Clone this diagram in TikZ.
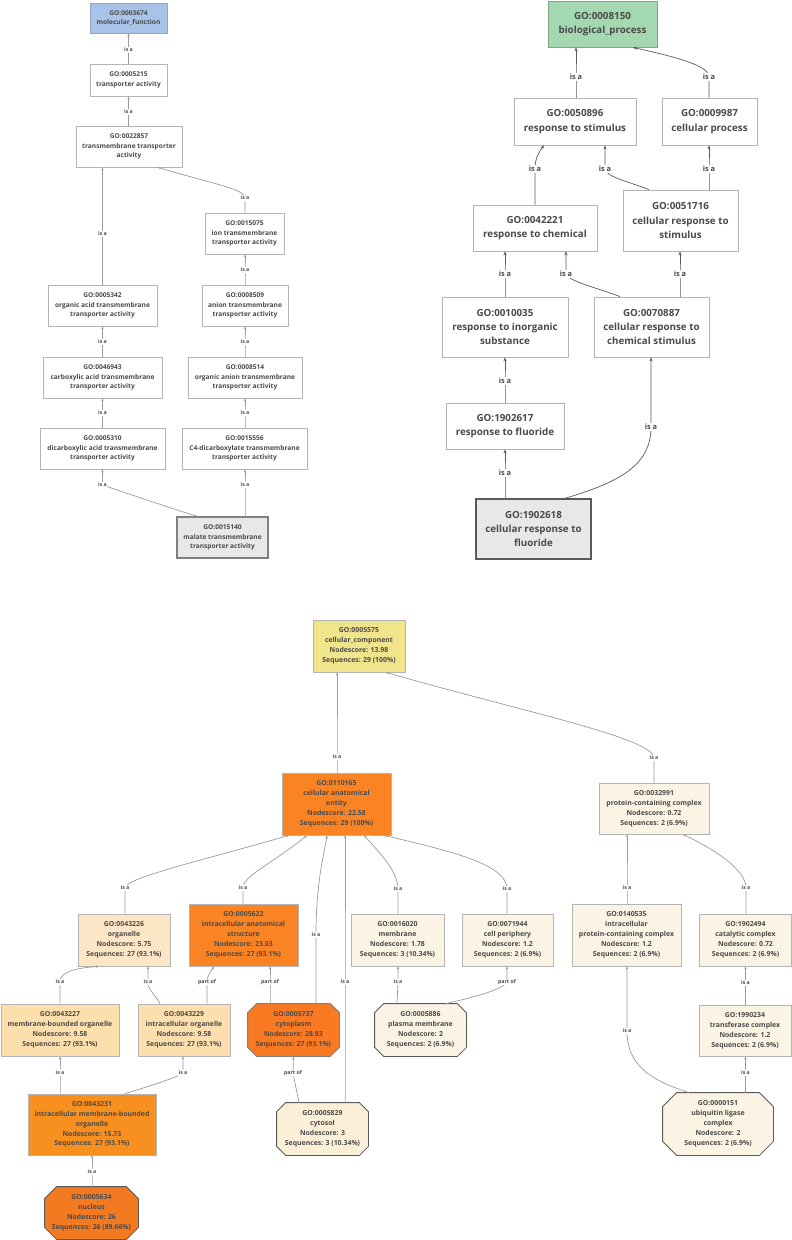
\documentclass[tikz,border=0pt]{standalone}
\usepackage{fontspec}
\setmainfont{Open Sans}
\usetikzlibrary{arrows.meta,backgrounds}
\definecolor{txt}{HTML}{4A4A4A}
\definecolor{mfblue}{HTML}{A9C3E8}
\definecolor{mfbd}{HTML}{8FA6C8}
\definecolor{bpgreen}{HTML}{A3D8B0}
\definecolor{bpbd}{HTML}{7FA88A}
\definecolor{ccyellow}{HTML}{F0E48C}
\definecolor{orA}{HTML}{FA8424}
\definecolor{orB}{HTML}{F97A22}
\definecolor{orC}{HTML}{F8901F}
\definecolor{orD}{HTML}{F47A22}
\definecolor{peachA}{HTML}{FDE6C6}
\definecolor{peachB}{HTML}{FCDFAC}
\definecolor{cream}{HTML}{FBF3E4}
\definecolor{creamB}{HTML}{FCEFD8}
\definecolor{srcgray}{HTML}{E8E8E8}
\definecolor{bdgray}{HTML}{B4B4B4}
\definecolor{edgegray}{HTML}{9A9A9A}
\definecolor{edgedark}{HTML}{5A5A5A}
\newcommand{\gooct}[3]{%
  \path[#3] ([xshift=#2]#1.north west) -- ([xshift=-#2]#1.north east) -- ([yshift=-#2]#1.north east) -- ([yshift=#2]#1.south east) -- ([xshift=-#2]#1.south east) -- ([xshift=#2]#1.south west) -- ([yshift=#2]#1.south west) -- ([yshift=-#2]#1.north west) -- cycle;}
\begin{document}
\begin{tikzpicture}[x=1pt,y=-1pt,
  sz/.style 2 args={minimum width=#1pt,minimum height=#2pt},
  basebox/.style={rectangle,draw=bdgray,fill=white,line width=0.8pt,inner sep=0pt,align=center,text=txt},
  mfbox/.style={basebox,font=\bfseries\fontsize{6.6}{9.3}\selectfont},
  bpbox/.style={basebox,font=\bfseries\fontsize{9.8}{14.3}\selectfont},
  ccbox/.style={basebox,font=\bfseries\fontsize{6.9}{9.9}\selectfont},
  ccoct/.style={ccbox,draw=none,fill=none},
  octfill/.style={fill=#1,draw=edgedark,line width=0.8pt},
  srcbox/.style={fill=srcgray,draw=gray,line width=1.2pt},
  mfedge/.style={draw=edgegray,line width=0.7pt,-{Stealth[length=3pt,width=2.4pt]}},
  bpedge/.style={draw=edgedark,line width=0.7pt,-{Stealth[length=4pt,width=3.2pt]}},
  ccedge/.style={draw=edgegray,line width=0.7pt,-{Stealth[length=3pt,width=2.4pt]}},
  smlab/.style={fill=white,inner sep=0.6pt,text=txt,font=\bfseries\fontsize{5.2}{6}\selectfont},
  bplab/.style={fill=white,inner sep=0.8pt,text=txt,font=\bfseries\fontsize{7.4}{8}\selectfont}
]
\useasboundingbox (0,0) rectangle (792,1240);

% ---------------- molecular function ----------------
\node[mfbox,sz={77}{30},fill=mfblue,draw=mfbd] (mf) at (128.5,18) {GO:0003674\\molecular\_function};
\node[mfbox,sz={77}{32}] (ta) at (128.5,80) {GO:0005215\\transporter activity};
\node[mfbox,sz={106}{41}] (tta) at (129,146.5) {GO:0022857\\transmembrane transporter\\activity};
\node[mfbox,sz={79}{41}] (itta) at (244.5,233.5) {GO:0015075\\ion transmembrane\\transporter activity};
\node[mfbox,sz={109}{41}] (oatta) at (102.5,305.5) {GO:0005342\\organic acid transmembrane\\transporter activity};
\node[mfbox,sz={86}{41}] (atta) at (245,305.5) {GO:0008509\\anion transmembrane\\transporter activity};
\node[mfbox,sz={119}{41}] (catta) at (102.5,377.5) {GO:0046943\\carboxylic acid transmembrane\\transporter activity};
\node[mfbox,sz={114}{41}] (oanta) at (245,377.5) {GO:0008514\\organic anion transmembrane\\transporter activity};
\node[mfbox,sz={125}{41}] (datta) at (102.5,448.5) {GO:0005310\\dicarboxylic acid transmembrane\\transporter activity};
\node[mfbox,sz={125}{41}] (c4) at (244.5,448.5) {GO:0015556\\C4-dicarboxylate transmembrane\\transporter activity};
\node[mfbox,sz={91}{41},srcbox] (mal) at (222.5,537.5) {GO:0015140\\malate transmembrane\\transporter activity};

\draw[mfedge] (ta.north) -- (128.5,50) node[smlab] (l1) {is a} -- (mf.south);
\draw[mfedge] ([xshift=-0.5pt]tta.north) -- (128.5,112) node[smlab] (l2) {is a} -- (ta.south);
\draw[mfedge] (oatta.north) -- (102.5,234) node[smlab] (l3) {is a} -- ([xshift=-26.5pt]tta.south);
\draw[mfedge] ([xshift=0.5pt]itta.north) -- (245,198) node[smlab] (l4) {is a} .. controls (245,189) and (215,184.5) .. ([xshift=29pt]tta.south);
\draw[mfedge] (atta.north) -- (245,270) node[smlab] (l5) {is a} -- ([xshift=0.5pt]itta.south);
\draw[mfedge] (catta.north) -- (102.5,342) node[smlab] (l6) {is a} -- (oatta.south);
\draw[mfedge] (oanta.north) -- (245,342) node[smlab] (l7) {is a} -- (atta.south);
\draw[mfedge] (datta.north) -- (102.5,413) node[smlab] (l8) {is a} -- (catta.south);
\draw[mfedge] ([xshift=0.5pt]c4.north) -- (245,413) node[smlab] (l9) {is a} -- (oanta.south);
\draw[mfedge] ([xshift=-24.5pt]mal.north) .. controls (180,511.5) and (110,487.5) .. (102.5,485) node[smlab] (l10) {is a} -- (datta.south);
\draw[mfedge] ([xshift=22.5pt]mal.north) -- (245,485) node[smlab] (l11) {is a} -- ([xshift=0.5pt]c4.south);

% ---------------- biological process ----------------
\node[bpbox,sz={109}{46},fill=bpgreen,draw=bpbd] (bp) at (602.5,24) {GO:0008150\\biological\_process};
\node[bpbox,sz={122}{47}] (rs) at (575,121.5) {GO:0050896\\response to stimulus};
\node[bpbox,sz={95}{47}] (cp) at (709.5,121.5) {GO:0009987\\cellular process};
\node[bpbox,sz={124}{46}] (rc) at (535,228) {GO:0042221\\response to chemical};
\node[bpbox,sz={115}{61}] (crs) at (680.5,220.5) {GO:0051716\\cellular response to\\stimulus};
\node[bpbox,sz={126}{60}] (ri) at (505,327) {GO:0010035\\response to inorganic\\substance};
\node[bpbox,sz={115}{60}] (ccs) at (651.5,327) {GO:0070887\\cellular response to\\chemical stimulus};
\node[bpbox,sz={118}{46}] (rf) at (505,426) {GO:1902617\\response to fluoride};
\node[bpbox,sz={115}{60},srcbox,draw=edgedark,line width=1.4pt] (crf) at (533.5,529) {GO:1902618\\cellular response to\\fluoride};

\draw[bpedge] ([xshift=1pt]rs.north) -- (576,77) node[bplab] (b1) {is a} -- ([xshift=-26.5pt]bp.south);
\draw[bpedge] ([xshift=-0.5pt]cp.north) -- (709,77) node[bplab] (b2) {is a} .. controls (709,66) and (680,58) .. ([xshift=30.5pt]bp.south);
\draw[bpedge] (rc.north) -- (535,169) node[bplab] (b3) {is a} .. controls (535,158) and (539,152) .. ([xshift=-31pt]rs.south);
\draw[bpedge] ([xshift=-31.5pt]crs.north) .. controls (630,182) and (606,177) .. (605,169) node[bplab] (b4) {is a} -- ([xshift=30pt]rs.south);
\draw[bpedge] ([xshift=28.5pt]crs.north) -- (709,169) node[bplab] (b5) {is a} -- ([xshift=-0.5pt]cp.south);
\draw[bpedge] (ri.north) -- (505,274) node[bplab] (b6) {is a} -- ([xshift=-30pt]rc.south);
\draw[bpedge] ([xshift=-31.5pt]ccs.north) .. controls (598,288) and (570,282) .. (566,274) node[bplab] (b7) {is a} -- ([xshift=31pt]rc.south);
\draw[bpedge] ([xshift=28.5pt]ccs.north) -- (680,274) node[bplab] (b8) {is a} -- ([xshift=-0.5pt]crs.south);
\draw[bpedge] (rf.north) -- (505,381) node[bplab] (b9) {is a} -- (ri.south);
\draw[bpedge] ([xshift=-28.5pt]crf.north) -- (505,473) node[bplab] (b10) {is a} -- (rf.south);
\draw[bpedge] ([xshift=31.5pt]crf.north) .. controls (620,482) and (651,465) .. (651,427) node[bplab] (b11) {is a} -- ([xshift=-0.5pt]ccs.south);

% ---------------- cellular component ----------------
\node[ccbox,sz={92}{52},fill=ccyellow] (cc) at (359,646) {GO:0005575\\cellular\_component\\Nodescore: 13.98\\Sequences: 29 (100\%)};
\node[ccbox,sz={109}{62},fill=orA] (cae) at (336.5,804) {GO:0110165\\cellular anatomical\\entity\\Nodescore: 22.58\\Sequences: 29 (100\%)};
\node[ccbox,sz={110}{51},fill=cream] (pcc) at (654,808.5) {GO:0032991\\protein-containing complex\\Nodescore: 0.72\\Sequences: 2 (6.9\%)};
\node[ccbox,sz={92}{52},fill=peachA] (org) at (124,940) {GO:0043226\\organelle\\Nodescore: 5.75\\Sequences: 27 (93.1\%)};
\node[ccbox,sz={109}{62},fill=orA] (ias) at (243.5,935) {GO:0005622\\intracellular anatomical\\structure\\Nodescore: 23.03\\Sequences: 27 (93.1\%)};
\node[ccbox,sz={93}{52},fill=cream] (mem) at (397.5,940) {GO:0016020\\membrane\\Nodescore: 1.78\\Sequences: 3 (10.34\%)};
\node[ccbox,sz={91}{52},fill=cream] (cper) at (507.5,940) {GO:0071944\\cell periphery\\Nodescore: 1.2\\Sequences: 2 (6.9\%)};
\node[ccbox,sz={109}{62},fill=cream] (ipcc) at (626.5,935) {GO:0140535\\intracellular\\protein-containing complex\\Nodescore: 1.2\\Sequences: 2 (6.9\%)};
\node[ccbox,sz={92}{52},fill=cream] (catc) at (745.5,940) {GO:1902494\\catalytic complex\\Nodescore: 0.72\\Sequences: 2 (6.9\%)};
\node[ccbox,sz={118}{52},fill=peachB] (mbo) at (60,1030) {GO:0043227\\membrane-bounded organelle\\Nodescore: 9.58\\Sequences: 27 (93.1\%)};
\node[ccbox,sz={92}{52},fill=peachB] (io) at (184,1030) {GO:0043229\\intracellular organelle\\Nodescore: 9.58\\Sequences: 27 (93.1\%)};
\node[ccoct,sz={91}{52}] (cyto) at (293.5,1030) {GO:0005737\\cytoplasm\\Nodescore: 28.93\\Sequences: 27 (93.1\%)};
\node[ccoct,sz={91}{52}] (pm) at (420.5,1030) {GO:0005886\\plasma membrane\\Nodescore: 2\\Sequences: 2 (6.9\%)};
\node[ccbox,sz={92}{51},fill=cream] (tc) at (745,1030.5) {GO:1990234\\transferase complex\\Nodescore: 1.2\\Sequences: 2 (6.9\%)};
\node[ccbox,sz={128}{61},fill=orC] (imbo) at (92,1124.5) {GO:0043231\\intracellular membrane-bounded\\organelle\\Nodescore: 15.73\\Sequences: 27 (93.1\%)};
\node[ccoct,sz={91}{52}] (cyts) at (322.5,1129) {GO:0005829\\cytosol\\Nodescore: 3\\Sequences: 3 (10.34\%)};
\node[ccoct,sz={110}{62}] (ulc) at (718,1124) {GO:0000151\\ubiquitin ligase\\complex\\Nodescore: 2\\Sequences: 2 (6.9\%)};
\node[ccoct,sz={93}{52}] (nuc) at (91.5,1213) {GO:0005634\\nucleus\\Nodescore: 26\\Sequences: 26 (89.66\%)};

\begin{scope}[on background layer]
  \gooct{cyto}{9pt}{octfill=orB,draw=gray}
  \gooct{pm}{9pt}{octfill=cream}
  \gooct{cyts}{9pt}{octfill=creamB}
  \gooct{ulc}{14pt}{octfill=cream}
  \gooct{nuc}{12pt}{octfill=orD}
\end{scope}

\draw[ccedge] ([xshift=0.5pt]cae.north) -- (337,757) node[smlab] (c1) {is a} -- ([xshift=-22pt]cc.south);
\draw[ccedge] (pcc.north) -- (654,758) node[smlab] (c2) {is a} .. controls (654,738) and (520,711) .. ([xshift=27pt]cc.south);
\draw[ccedge] ([xshift=1pt]org.north) -- (125,888) node[smlab] (c3) {is a} .. controls (125,878) and (200,861) .. ([xshift=-47.5pt]cae.south);
\draw[ccedge] ([xshift=-0.5pt]ias.north) -- (243,888) node[smlab] (c4l) {is a} .. controls (243,876) and (270,865) .. ([xshift=-29.5pt]cae.south);
\draw[ccedge] ([xshift=22.5pt]cyto.north) -- (316,935) node[smlab] (c5) {is a} .. controls (316,880) and (325,850) .. ([xshift=-9.5pt]cae.south);
\draw[ccedge] ([xshift=22.5pt]cyts.north) -- (345,982) node[smlab] (c6) {is a} -- ([xshift=8.5pt]cae.south);
\draw[ccedge] ([xshift=0.5pt]mem.north) -- (398,889) node[smlab] (c7) {is a} .. controls (398,874) and (385,858) .. ([xshift=27.5pt]cae.south);
\draw[ccedge] ([xshift=-0.5pt]cper.north) -- (507,889) node[smlab] (c8) {is a} .. controls (507,866) and (460,853) .. ([xshift=47.5pt]cae.south);
\draw[ccedge] ([xshift=0.5pt]ipcc.north) -- (627,888) node[smlab] (c9) {is a} -- ([xshift=-27pt]pcc.south);
\draw[ccedge] ([xshift=0.5pt]catc.north) -- (746,888) node[smlab] (c10) {is a} .. controls (746,872) and (722,853) .. ([xshift=29pt]pcc.south);
\draw[ccedge] (mbo.north) -- (60,982) node[smlab] (c11) {is a} .. controls (60,972) and (75,968) .. ([xshift=-25pt]org.south);
\draw[ccedge] ([xshift=-24pt]io.north) .. controls (156,996) and (148,990) .. (148,982) node[smlab] (c12) {is a} -- ([xshift=24pt]org.south);
\draw[ccedge] ([xshift=23pt]io.north) -- (207,982) node[smlab] (c13) {part of} .. controls (207,975) and (212,970) .. ([xshift=-29.5pt]ias.south);
\draw[ccedge] ([xshift=-23.5pt]cyto.north) -- (270,982) node[smlab] (c14) {part of} -- ([xshift=26.5pt]ias.south);
\draw[ccedge] ([xshift=-23.5pt]pm.north) -- (398,982) node[smlab] (c15) {is a} -- ([xshift=0.5pt]mem.south);
\draw[ccedge] ([xshift=25.5pt]pm.north) .. controls (470,998) and (503,990) .. (507,982) node[smlab] (c16) {part of} -- ([xshift=-0.5pt]cper.south);
\draw[ccedge] ([xshift=-29pt]ulc.north) .. controls (650,1080) and (627,1065) .. (627,1031) node[smlab] (c17) {is a} -- ([xshift=0.5pt]ipcc.south);
\draw[ccedge] ([xshift=0.5pt]tc.north) -- (745.5,983) node[smlab] (c18) {is a} -- (catc.south);
\draw[ccedge] ([xshift=27.5pt]ulc.north) -- (745.5,1073) node[smlab] (c19) {is a} -- ([xshift=0.5pt]tc.south);
\draw[ccedge] ([xshift=-32pt]imbo.north) -- (60,1073) node[smlab] (c20) {is a} -- (mbo.south);
\draw[ccedge] ([xshift=33pt]imbo.north) .. controls (150,1086) and (178,1077) .. (183,1073) node[smlab] (c21) {is a} -- ([xshift=-1pt]io.south);
\draw[ccedge] ([xshift=0.5pt]nuc.north) -- (92,1172) node[smlab] (c22) {is a} -- (imbo.south);
\draw[ccedge] ([xshift=-23.5pt]cyts.north) -- (293,1073) node[smlab] (c23) {part of} -- (cyto.south);
\end{tikzpicture}
\end{document}
